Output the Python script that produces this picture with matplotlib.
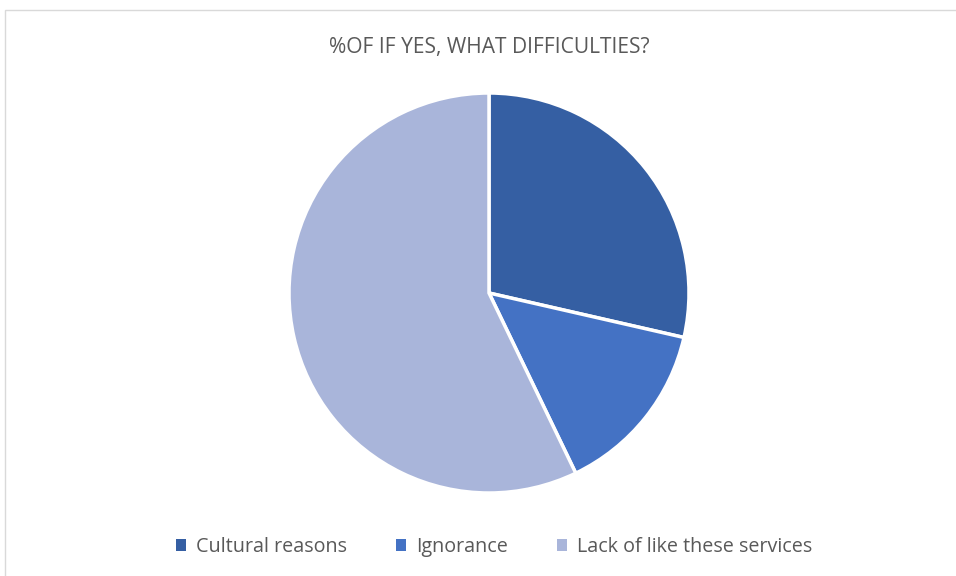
import matplotlib
matplotlib.use("Agg")
import matplotlib.pyplot as plt
from matplotlib.patches import Rectangle, Patch

categories = ["Cultural reasons", "Ignorance", "Lack of like these services"]
values = [2, 1, 4]
colors = ["#355FA3", "#4472C4", "#A9B5DA"]
title = "%OF IF YES, WHAT DIFFICULTIES?"

plt.rcParams['font.family'] = ['Open Sans', 'DejaVu Sans']

W, H = 956, 576
fig = plt.figure(figsize=(W/100, H/100), dpi=100)
fig.patch.set_facecolor("white")

# chart frame
fig.patches.append(Rectangle((5/W, -0.01), 1.02, (576-10)/H + 0.01, transform=fig.transFigure,
                             fill=False, edgecolor="#D9D9D9", linewidth=1.0))

cx, cy, r = 489, 293, 200
ax = fig.add_axes([(cx - r)/W, (H - cy - r)/H, 2*r/W, 2*r/H])
ax.pie(values, colors=colors, startangle=90, counterclock=False,
       wedgeprops=dict(edgecolor="white", linewidth=2.5))
ax.set_aspect("equal")
ax.set_xlim(-1, 1)
ax.set_ylim(-1, 1)
ax.axis("off")

fig.text(489/W, 1 - 47/H, title, ha="center", va="center", fontsize=15.1, color="#595959")

handles = [Patch(facecolor=c, edgecolor="none") for c in colors]
leg = fig.legend(handles, categories, loc="center", bbox_to_anchor=(494/W, 1 - 547/H),
                 ncol=3, frameon=False, fontsize=14.2, handlelength=0.5, handleheight=0.5,
                 handletextpad=0.5, columnspacing=2.5, labelcolor="#595959")

fig.savefig("out.png", dpi=100)
